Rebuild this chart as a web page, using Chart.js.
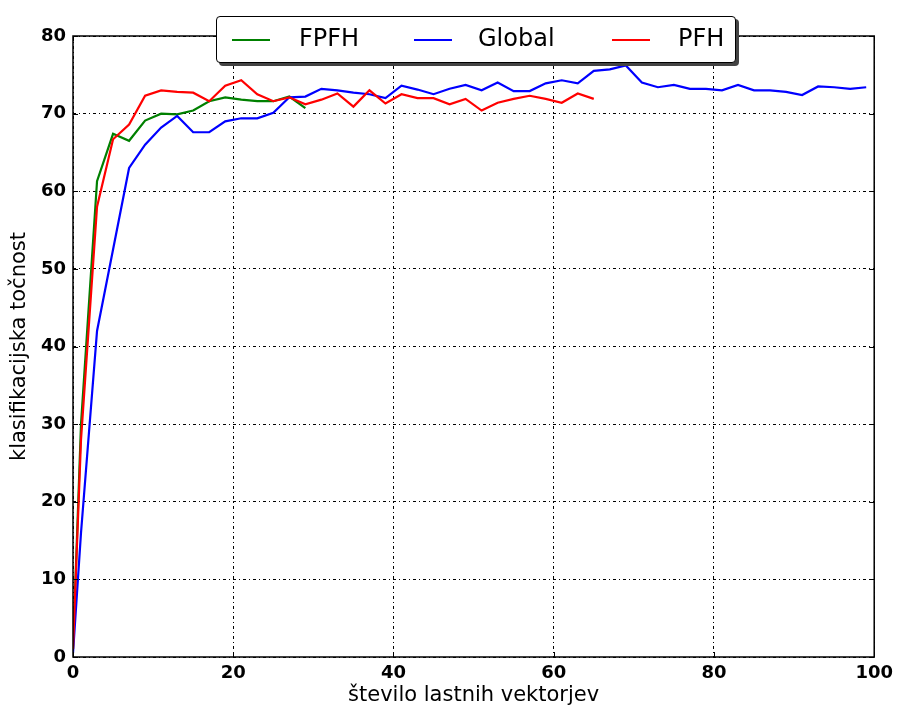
<!DOCTYPE html>
<html>
<head>
<meta charset="utf-8">
<script src="https://cdn.jsdelivr.net/npm/chart.js@4.4.0/dist/chart.umd.min.js"></script>
<style>
  body { margin: 0; background: #fff; }
  #okvir { position: relative; width: 899px; height: 716px; }
  #legenda {
    position: absolute; left: 216px; top: 16px; width: 518px; height: 45px;
    background: #fff; border: 1.5px solid #000; border-radius: 4px;
    box-shadow: 3px 3px 0 #444;
    font-family: "DejaVu Sans", sans-serif; font-size: 24px; color: #000;
  }
  #legenda .crta { position: absolute; top: 22px; width: 38px; height: 1.5px; }
  #legenda .ime { position: absolute; top: 7px; line-height: 28px; }
</style>
</head>
<body>
<div id="okvir">
  <canvas id="grafTocnost" width="899" height="716"></canvas>
  <div id="legenda">
    <div class="crta" style="left:15px;background:#008000"></div><div class="ime" style="left:82px">FPFH</div>
    <div class="crta" style="left:197px;background:#0000ff"></div><div class="ime" style="left:261px">Global</div>
    <div class="crta" style="left:395px;background:#ff0000"></div><div class="ime" style="left:461px">PFH</div>
  </div>
</div>
<script>
/* stevilo lastnih vektorjev (0, 1, 3, 5, ... 99) */
var steviloVektorjev = [0, 1, 3, 5, 7, 9, 11, 13, 15, 17, 19, 21, 23, 25, 27, 29, 31, 33, 35, 37, 39,
  41, 43, 45, 47, 49, 51, 53, 55, 57, 59, 61, 63, 65, 67, 69, 71, 73, 75, 77, 79,
  81, 83, 85, 87, 89, 91, 93, 95, 97, 99];

/* klasifikacijska tocnost po deskriptorjih */
var tocnostFPFH = [1, 30, 61.3, 67.4, 66.5, 69.1, 70.0, 69.9, 70.4, 71.6, 72.1, 71.8, 71.6, 71.6, 72.2, 70.7];

var tocnostGlobal = [0.5, 16, 42, 52.5, 63, 66, 68.2, 69.7, 67.6, 67.6, 69.0, 69.4, 69.4, 70.1, 72.1, 72.2,
  73.2, 73.0, 72.7, 72.5, 72.0, 73.6, 73.1, 72.5, 73.2, 73.7, 73.0, 74.0, 72.9, 72.9, 73.9,
  74.3, 73.9, 75.5, 75.7, 76.2, 74.0, 73.4, 73.7, 73.2, 73.2, 73.0, 73.7, 73.0, 73.0, 72.8,
  72.4, 73.5, 73.4, 73.2, 73.4];

var tocnostPFH = [1, 28, 58, 66.7, 68.6, 72.3, 73.0, 72.8, 72.7, 71.6, 73.6, 74.3, 72.5, 71.6, 72.1, 71.2,
  71.8, 72.6, 70.9, 73.0, 71.3, 72.5, 72.0, 72.0, 71.2, 71.9, 70.4, 71.4, 71.9, 72.3, 71.9,
  71.4, 72.6, 71.9];

var xOznake = [0, 20, 40, 60, 80, 100];
var yOznake = [0, 10, 20, 30, 40, 50, 60, 70, 80];

function tocke(vrednosti) {
  var t = [];
  for (var i = 0; i < vrednosti.length; i++) {
    t.push({ x: steviloVektorjev[i], y: vrednosti[i] });
  }
  return t;
}

// okvir okoli grafa + kratke crtice navznoter (kot v matplotlibu)
var okvirGrafa = {
  id: 'okvirGrafa',
  afterDraw: function (chart) {
    var ctx = chart.ctx;
    var a = chart.chartArea;
    var sx = chart.scales.x, sy = chart.scales.y;
    ctx.save();
    ctx.strokeStyle = '#000';
    ctx.lineWidth = 1.5;
    ctx.strokeRect(a.left, a.top, a.right - a.left, a.bottom - a.top);
    ctx.lineWidth = 1;
    ctx.beginPath();
    xOznake.forEach(function (v) {
      var px = Math.round(sx.getPixelForValue(v)) + 0.5;
      ctx.moveTo(px, a.bottom); ctx.lineTo(px, a.bottom - 5);
      ctx.moveTo(px, a.top); ctx.lineTo(px, a.top + 5);
    });
    yOznake.forEach(function (v) {
      var py = Math.round(sy.getPixelForValue(v)) + 0.5;
      ctx.moveTo(a.left, py); ctx.lineTo(a.left + 5, py);
      ctx.moveTo(a.right, py); ctx.lineTo(a.right - 5, py);
    });
    ctx.stroke();
    ctx.restore();
  }
};

var pisava = "'DejaVu Sans', sans-serif";

var ctx = document.getElementById('grafTocnost');
var graf = new Chart(ctx, {
  type: 'line',
  data: {
    datasets: [{
      label: 'FPFH',
      data: tocke(tocnostFPFH),
      borderColor: '#008000',
      order: 2
    }, {
      label: 'Global',
      data: tocke(tocnostGlobal),
      borderColor: '#0000ff',
      order: 1
    }, {
      label: 'PFH',
      data: tocke(tocnostPFH),
      borderColor: '#ff0000',
      order: 0
    }]
  },
  options: {
    responsive: false,
    animation: false,
    layout: { padding: { left: 0, right: 24, top: 36, bottom: 0 } },
    elements: {
      point: { radius: 0 },
      line: { borderWidth: 2.2, tension: 0 }
    },
    plugins: {
      legend: { display: false },
      tooltip: { enabled: false }
    },
    scales: {
      x: {
        type: 'linear',
        min: 0,
        max: 100,
        afterFit: function (s) { s.height = 59; },
        afterBuildTicks: function (s) { s.ticks = xOznake.map(function (v) { return { value: v }; }); },
        ticks: { padding: 6, color: '#000', font: { family: pisava, size: 18, weight: 'bold' } },
        grid: { color: '#000', lineWidth: 1, drawTicks: false },
        border: { display: false, dash: [3, 3, 1, 3] },
        title: { display: true, text: 'število lastnih vektorjev', color: '#000',
          font: { family: pisava, size: 21 }, padding: { top: 0, bottom: 8 } }
      },
      y: {
        min: 0,
        max: 80,
        afterFit: function (s) { s.width = 73; },
        afterBuildTicks: function (s) { s.ticks = yOznake.map(function (v) { return { value: v }; }); },
        ticks: { padding: 7, color: '#000', font: { family: pisava, size: 18, weight: 'bold' } },
        grid: { color: '#000', lineWidth: 1, drawTicks: false },
        border: { display: false, dash: [3, 3, 1, 3] },
        title: { display: true, text: 'klasifikacijska točnost', color: '#000',
          font: { family: pisava, size: 21 }, padding: { top: 7, bottom: 0 } }
      }
    }
  },
  plugins: [okvirGrafa]
});
</script>
</body>
</html>
